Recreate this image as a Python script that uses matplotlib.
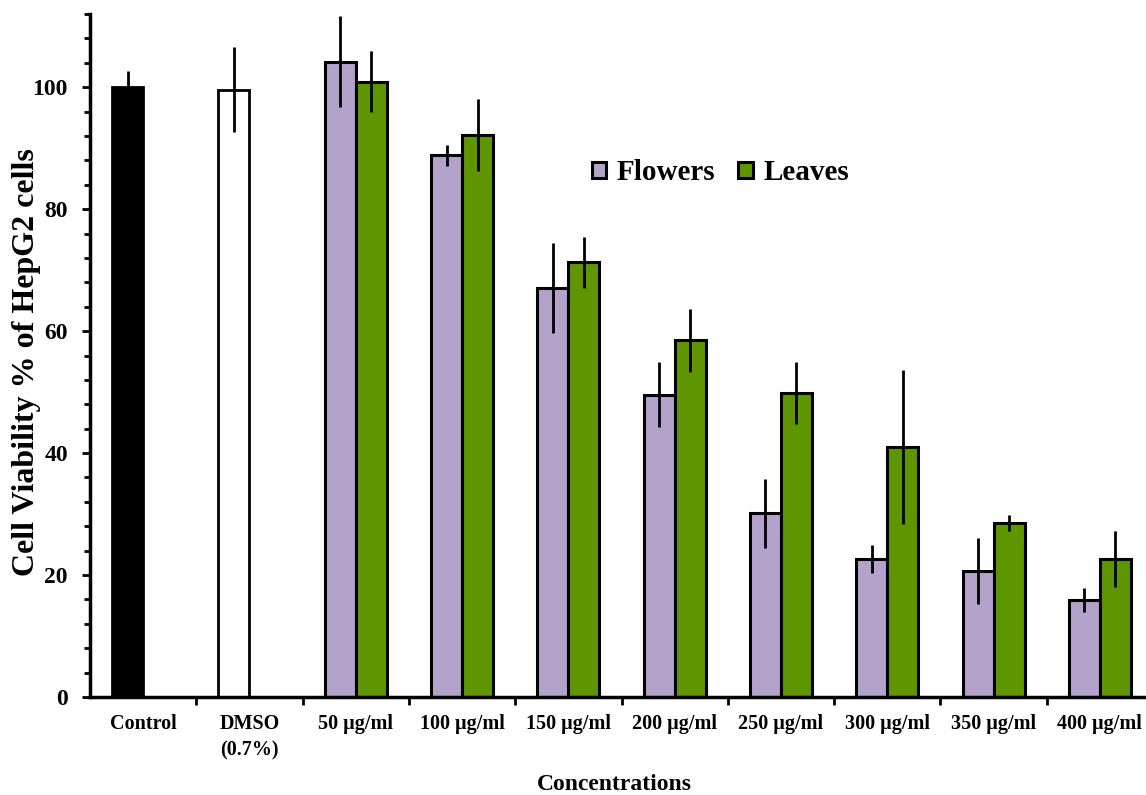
import numpy as np
import matplotlib.pyplot as plt
from matplotlib.ticker import MultipleLocator, FixedLocator

categories = ["Control", "DMSO\n(0.7%)", "50 µg/ml", "100 µg/ml", "150 µg/ml",
              "200 µg/ml", "250 µg/ml", "300 µg/ml", "350 µg/ml", "400 µg/ml"]

control_val, control_err = 100.0, 2.6
dmso_val, dmso_err = 99.6, 7.0

# 50 .. 400 µg/ml
flowers = [104.2, 88.8, 67.1, 49.6, 30.1, 22.6, 20.7, 15.9]
flowers_err = [7.5, 1.8, 7.4, 5.3, 5.6, 2.3, 5.4, 2.0]
leaves = [100.9, 92.1, 71.3, 58.5, 49.8, 41.0, 28.6, 22.6]
leaves_err = [5.0, 5.9, 4.2, 5.2, 5.1, 12.7, 1.3, 4.6]

plt.rcParams['font.family'] = ['Liberation Serif', 'DejaVu Serif']
plt.rcParams['font.weight'] = 'bold'

fig = plt.figure(figsize=(11.46, 7.95), dpi=100)
ax = fig.add_axes([90 / 1146, 98 / 795, 1063 / 1146, 683 / 795])

w = 0.292
x = np.arange(len(categories))
xc = x[2:]
err_kw = dict(ecolor='black', elinewidth=2, capsize=0)

# control and DMSO sit in the left slot of their category
ax.bar(x[0] - w / 2, control_val, width=w, color='black', edgecolor='black',
       linewidth=2, yerr=control_err, error_kw=err_kw)
ax.bar(x[1] - w / 2, dmso_val, width=w, color='white', edgecolor='black',
       linewidth=2, yerr=dmso_err, error_kw=err_kw)
ax.bar(xc - w / 2, flowers, width=w, color='#b3a3cb', edgecolor='black', linewidth=2.2,
       yerr=flowers_err, error_kw=err_kw, label='Flowers')
ax.bar(xc + w / 2, leaves, width=w, color='#5f9600', edgecolor='black', linewidth=2.2,
       yerr=leaves_err, error_kw=err_kw, label='Leaves')

ax.set_xlim(-0.5, len(categories) - 0.5)
ax.set_ylim(0, 112)

for side in ['top', 'right']:
    ax.spines[side].set_visible(False)
for side in ['left', 'bottom']:
    ax.spines[side].set_linewidth(2.5)

ax.set_yticks([0, 20, 40, 60, 80, 100])
ax.yaxis.set_minor_locator(MultipleLocator(4))
ax.tick_params(axis='y', which='major', length=6, width=2, pad=10, labelsize=17)
ax.tick_params(axis='y', which='minor', length=4, width=2)

ax.set_xticks(x)
ax.set_xticklabels(categories, linespacing=1.45)
ax.xaxis.set_minor_locator(FixedLocator(np.arange(0.5, len(categories) - 0.5, 1)))
ax.tick_params(axis='x', which='major', length=0, pad=12, labelsize=14.5)
ax.tick_params(axis='x', which='minor', length=6, width=2)

ax.set_ylabel("Cell Viability % of HepG2 cells", fontsize=23, fontweight='bold')
ax.yaxis.set_label_coords(-49 / 1063, 0.49)
ax.set_xlabel("Concentrations", fontsize=17, fontweight='bold')
ax.xaxis.set_label_coords(0.4935, -77 / 683)

ax.legend(loc='center left', bbox_to_anchor=(580 / 1146, 1 - 173 / 795),
          bbox_transform=fig.transFigure, frameon=False, ncol=2, fontsize=21,
          handlelength=0.5, handleheight=0.5, handletextpad=0.35, columnspacing=0.8,
          borderaxespad=0)

fig.savefig("out.png", dpi=100)
